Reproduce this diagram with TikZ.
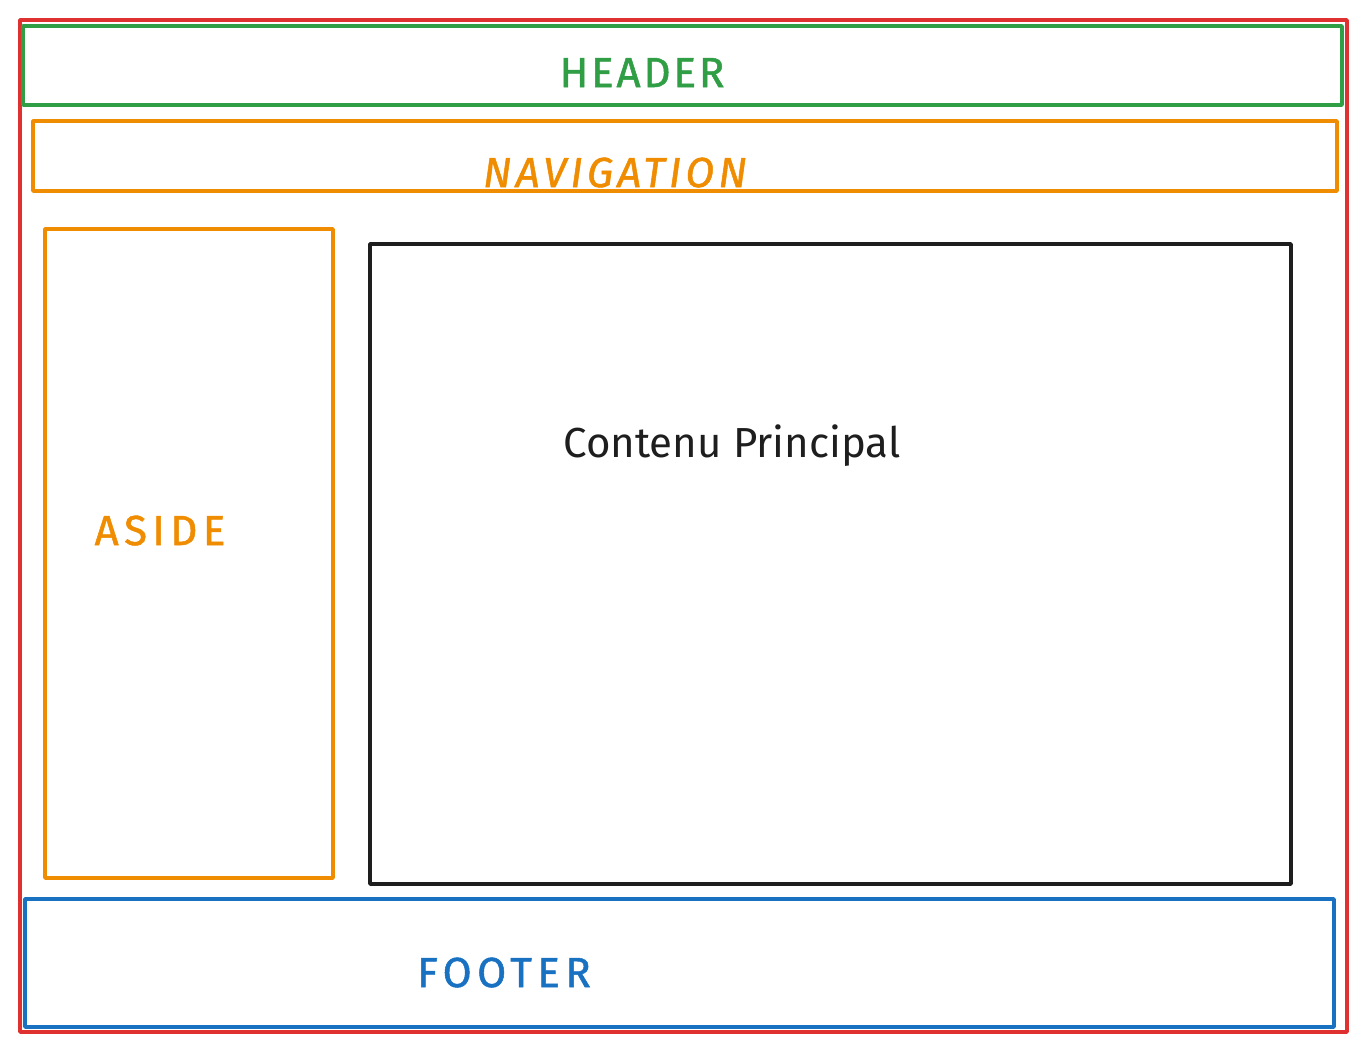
\documentclass[tikz,border=0pt]{standalone}
\usepackage{fontspec}
\setmainfont{Fira Sans}
\newfontfamily\capsfont[FakeBold=1.2]{Fira Sans}
\definecolor{exred}{HTML}{E03131}
\definecolor{exgreen}{HTML}{2F9E44}
\definecolor{exorange}{HTML}{F08C00}
\definecolor{exblue}{HTML}{1971C2}
\definecolor{exblack}{HTML}{1E1E1E}
\tikzset{
  zone/.style={line width=3.6pt, line join=round},
  lbl/.style={anchor=base, inner sep=0pt, font=\fontsize{42}{48}\selectfont},
}
\newcommand{\spaced}[2]{{\capsfont\fontsize{42}{48}\selectfont\addfontfeature{LetterSpace=#1}#2}}
\begin{document}
\begin{tikzpicture}[x=1pt,y=-1pt]
\useasboundingbox[fill=white] (0,0) rectangle (1366,1052);
\draw[zone, exred] (20,20) rectangle (1347,1032);
\draw[zone, exgreen] (23,26) rectangle (1342,105);
\draw[zone, exorange] (33,121) rectangle (1337,191);
\draw[zone, exorange] (45,229) rectangle (333,878);
\draw[zone, exblack] (370,244) rectangle (1291,884);
\draw[zone, exblue] (25,899) rectangle (1334,1027);
\node[lbl, text=exgreen] (header) at (642,87) {\spaced{7}{HEADER}};
\node[lbl, text=exorange] (nav) at (615,187) {\spaced{10}{\itshape NAVIGATION}};
\node[lbl, text=exorange] (aside) at (160,545) {\spaced{13}{ASIDE}};
\node[lbl, text=exblack] (main) at (732,457) {Contenu Principal};
\node[lbl, text=exblue] (footer) at (504,987) {\spaced{13}{FOOTER}};
\end{tikzpicture}
\end{document}
